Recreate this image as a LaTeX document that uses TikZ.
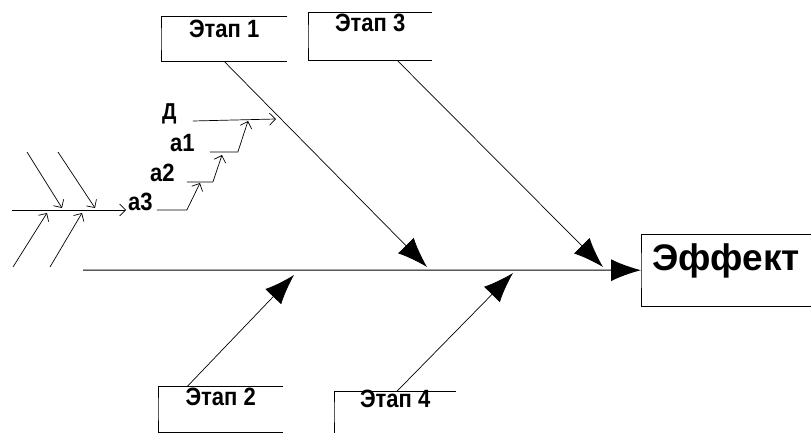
\documentclass[tikz,border=0pt]{standalone}
\usepackage{fontspec}
\setmainfont{Liberation Sans}
\newfontfamily\tallfont[FakeStretch=0.88]{Liberation Sans}
\usepackage{tikz}
\usetikzlibrary{positioning,arrows.meta}

\tikzset{
	etap/.style={anchor=north west, inner sep=0pt, minimum width=124pt,
		font=\tallfont\bfseries\fontsize{25}{25}\selectfont},
	openbox/.style={line width=1pt},
	bone/.style={-{Latex[length=30pt,width=22pt]}, line width=0.7pt},
	twig/.style={-{Straight Barb[length=6pt,width=12pt]}, line width=0.7pt},
	lbl/.style={anchor=base west, inner sep=0pt, font=\tallfont\bfseries\fontsize{25}{25}\selectfont}
}

\begin{document}
\begin{tikzpicture}[x=1pt, y=-1pt]

	\useasboundingbox (0,0) rectangle (811,433);

	% stages
	\node[etap,
	minimum width=126pt,
	text height=20pt,
	text depth=24pt] (E1) at (161,17) {Этап 1};

	\node[etap,
	text height=18pt,
	text depth=29pt] (E3) at (308,13) {Этап 3};

	\node[etap,
	minimum width=125pt,
	text height=19pt,
	text depth=27pt] (E2) at (158,386) {Этап 2};

	\node[etap,
	minimum width=122pt,
	text height=16pt,
	text depth=26pt] (E4) at (334,391) {Этап 4};

	\node[etap,
	minimum width=170pt,
	font=\bfseries\fontsize{37}{37}\selectfont,
	text height=36pt,
	text depth=36pt] (EFF) at (641,234) {Эффект};

	\foreach \b in {E1,E2,E3,E4,EFF}
		\draw[openbox] (\b.north east) -| (\b.west) |- (\b.south east);

	% spine and bones
	\coordinate (SP) at (83,270);
	\coordinate (K1) at (427,267);
	\coordinate (K2) at (294,275);
	\coordinate (K3) at (603,267);
	\coordinate (K4) at (513,273);

	\draw[bone, line width=1pt] (SP) -- (EFF.west);
	\draw[bone] (E1.south) -- (K1);
	\draw[bone] ([xshift=27pt]E3.south) -- (K3);
	\draw[bone] ([xshift=-33pt]E2.north) -- (K2);
	\draw[bone] ([xshift=2pt]E4.north) -- (K4);

	% sub-causes
	\node[lbl, font=\tallfont\bfseries\fontsize{23}{23}\selectfont] (D) at (162,120) {Д};
	\node[lbl] (A1) at (170,152) {a1};
	\node[lbl] (A2) at (150,182) {a2};
	\node[lbl] (A3) at (128,210) {a3};

	\coordinate (J1) at (276,119);
	\coordinate (J2) at (248,121);
	\coordinate (J3) at (222,155);
	\coordinate (J4) at (200,183);

	\draw[twig] (D.base east) ++(16pt,-1pt) -- (J1);
	\draw[twig] (A1.base east) ++(15pt,0) -- ++(28,0) -- (J2);
	\draw[twig] (A2.base east) ++(12pt,0) -- ++(26,0) -- (J3);
	\draw[twig] (A3.base east) ++(4pt,0) -- ++(30,0) -- (J4);

	\coordinate (L0) at (12,210);
	\draw[twig] (L0) -- ([xshift=-2pt]A3.base west);

	\foreach \n/\a/\b in {U1/27/62, U2/58/95} {
		\coordinate (\n-s) at (\a,152);
		\coordinate (\n-t) at (\b,208);
		\draw[twig] (\n-s) -- (\n-t);
	}
	\foreach \n/\a/\b in {B1/13/47, B2/50/82} {
		\coordinate (\n-s) at (\a,267);
		\coordinate (\n-t) at (\b,213);
		\draw[twig] (\n-s) -- (\n-t);
	}

\end{tikzpicture}
\end{document}
